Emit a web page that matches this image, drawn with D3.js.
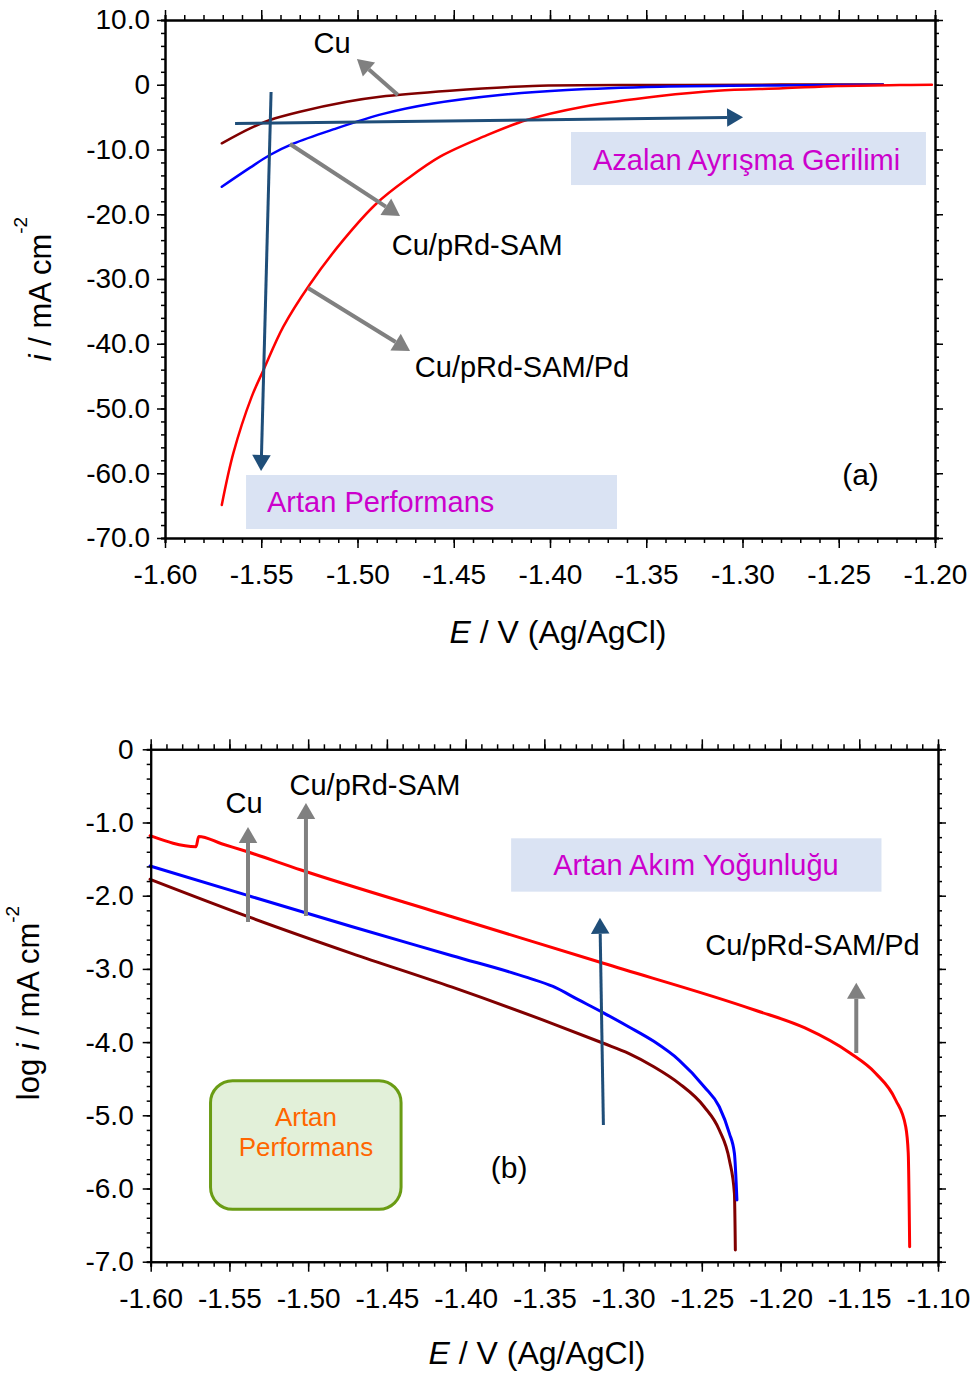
<!DOCTYPE html>
<html>
<head>
<meta charset="utf-8">
<script src="https://cdn.jsdelivr.net/npm/d3@7"></script>
<style>
body { margin: 0; background: #fff; }
text { font-family: "Liberation Sans", Arial, sans-serif; }
</style>
</head>
<body>
<svg id="chart" width="972" height="1373"></svg>
<script>
// ---- panel (a): linear current vs potential ----
var aCuE  = [-1.5705, -1.5558, -1.5455, -1.5299, -1.5056, -1.4883, -1.452, -1.409, -1.343, -1.28, -1.227];
var aCuI  = [-9.04, -6.73, -5.44, -4.16, -2.62, -1.85, -0.92, -0.19, -0.04, 0.02, 0.05];
var aSamE = [-1.5705, -1.5558, -1.5455, -1.5334, -1.5126, -1.4867, -1.4608, -1.426, -1.3912, -1.3428, -1.27, -1.227];
var aSamI = [-15.75, -12.8, -10.85, -9.1, -6.9, -4.5, -2.9, -1.58, -0.81, -0.30, -0.08, 0.0];
var aPdE  = [-1.5705, -1.5645, -1.555, -1.5489, -1.5386, -1.5247, -1.5074, -1.49, -1.4744, -1.4571, -1.4346, -1.4121, -1.3827, -1.3429, -1.3132, -1.279, -1.2509, -1.2182, -1.2016];
var aPdI  = [-64.9, -56.9, -48.2, -44.1, -37.4, -30.8, -24.0, -18.3, -14.6, -11.1, -8.02, -5.44, -3.39, -1.74, -0.92, -0.55, -0.19, -0.04, 0.0];

// ---- panel (b): Tafel plot, log i vs potential ----
var bCuE  = [-1.6004, -1.5364, -1.4725, -1.4085, -1.3445, -1.3125, -1.2965, -1.2805, -1.2645, -1.2485, -1.2389, -1.2325, -1.2293, -1.2287];
var bCuL  = [-1.776, -2.30, -2.787, -3.25, -3.75, -4.016, -4.153, -4.336, -4.563, -4.883, -5.201, -5.611, -6.066, -6.840];
var bSamE = [-1.6004, -1.5364, -1.4725, -1.4085, -1.3605, -1.3445, -1.3285, -1.3125, -1.2965, -1.2805, -1.2645, -1.2485, -1.2389, -1.2325, -1.2293, -1.2277];
var bSamL = [-1.594, -2.01, -2.42, -2.82, -3.12, -3.24, -3.42, -3.60, -3.79, -3.99, -4.245, -4.609, -4.883, -5.246, -5.519, -6.157];
var bPdE  = [-1.6004, -1.5712, -1.5695, -1.555, -1.54, -1.5045, -1.4087, -1.3125, -1.2165, -1.1845, -1.1559, -1.1398, -1.1269, -1.1205, -1.1189, -1.1180];
var bPdL  = [-1.18, -1.33, -1.19, -1.29, -1.39, -1.649, -2.287, -2.923, -3.561, -3.807, -4.149, -4.422, -4.791, -5.156, -5.515, -6.795];

// tick values
var aXTicks = d3.range(-1.60, -1.195, 0.05);
var aYTicks = d3.range(-70, 10.1, 10);
var bXTicks = d3.range(-1.60, -1.095, 0.05);
var bYTicks = d3.range(-7, 0.05, 1);

var colCu = "#800000", colSam = "#0000ff", colPd = "#ff0000";
var grey = "#808080", navy = "#1f4e79", magenta = "#cc00cc";

var svg = d3.select("#chart");

function yFmt(d) { return Math.abs(d) < 1e-9 ? "0" : d.toFixed(1); }
function xFmt(d) { return d.toFixed(2); }

function frame(g, x, y, xMaj, yMaj, xMinStep, yMinStep, xPad, yPad) {
  var x0 = x.domain()[0], x1 = x.domain()[1];
  var y0 = y.domain()[0], y1 = y.domain()[1];
  var xMin = d3.range(Math.round((x1 - x0) / xMinStep) + 1).map(function(k) { return x0 + k * xMinStep; });
  var yMin = d3.range(Math.round((y1 - y0) / yMinStep) + 1).map(function(k) { return y0 + k * yMinStep; });
  var W = x.range()[1], H = y.range()[0], L = x.range()[0], T = y.range()[1];

  // minor ticks
  g.append("g").attr("transform", "translate(0," + H + ")")
    .call(d3.axisBottom(x).tickValues(xMin).tickSize(5).tickFormat(""));
  g.append("g").attr("transform", "translate(0," + T + ")")
    .call(d3.axisTop(x).tickValues(xMin).tickSize(5).tickFormat(""));
  g.append("g").attr("transform", "translate(" + L + ",0)")
    .call(d3.axisLeft(y).tickValues(yMin).tickSize(4).tickFormat(""));
  g.append("g").attr("transform", "translate(" + W + ",0)")
    .call(d3.axisRight(y).tickValues(yMin).tickSize(4).tickFormat(""));

  // major ticks + labels
  g.append("g").attr("class", "lab").attr("transform", "translate(0," + H + ")")
    .call(d3.axisBottom(x).tickValues(xMaj).tickSize(10).tickSizeOuter(0).tickPadding(xPad).tickFormat(xFmt));
  g.append("g").attr("transform", "translate(0," + T + ")")
    .call(d3.axisTop(x).tickValues(xMaj).tickSize(10).tickSizeOuter(0).tickFormat(""));
  g.append("g").attr("class", "lab").attr("transform", "translate(" + L + ",0)")
    .call(d3.axisLeft(y).tickValues(yMaj).tickSize(8).tickSizeOuter(0).tickPadding(yPad).tickFormat(yFmt));
  g.append("g").attr("transform", "translate(" + W + ",0)")
    .call(d3.axisRight(y).tickValues(yMaj).tickSize(8).tickSizeOuter(0).tickFormat(""));

  g.selectAll(".domain").attr("stroke", "#000").attr("stroke-width", 2);
  g.selectAll(".tick line").attr("stroke", "#000").attr("stroke-width", 1.5);
  g.selectAll(".lab text").attr("font-size", 28).attr("fill", "#000")
    .style("font-family", "'Liberation Sans', Arial, sans-serif");
}

function curve(g, x, y, es, vs, col, w, cv) {
  var pts = es.map(function(e, k) { return [e, vs[k]]; });
  g.append("path").datum(pts)
    .attr("fill", "none").attr("stroke", col).attr("stroke-width", w)
    .attr("stroke-linejoin", "round").attr("stroke-linecap", "round")
    .attr("d", d3.line().x(function(d) { return x(d[0]); }).y(function(d) { return y(d[1]); })
      .curve(cv));
}

// arrow in data units
function arrow(g, x, y, e1, v1, e2, v2, col, w, head) {
  var ax = x(e1), ay = y(v1), bx = x(e2), by = y(v2);
  var dx = bx - ax, dy = by - ay, len = Math.sqrt(dx * dx + dy * dy);
  var ux = dx / len, uy = dy / len;
  var cx = bx - ux * head, cy = by - uy * head;
  g.append("line").attr("x1", ax).attr("y1", ay).attr("x2", cx).attr("y2", cy)
    .attr("stroke", col).attr("stroke-width", w);
  var hw = head * 0.58;
  g.append("polygon")
    .attr("points", [[bx, by], [cx - uy * hw, cy + ux * hw], [cx + uy * hw, cy - ux * hw]].join(" "))
    .attr("fill", col);
}

function label(g, x, y, e, v, txt, opts) {
  opts = opts || {};
  return g.append("text").attr("x", x(e)).attr("y", y(v))
    .attr("font-size", opts.size || 29).attr("fill", opts.fill || "#000")
    .attr("text-anchor", opts.anchor || "start").text(txt);
}

function box(g, x, y, e1, v1, e2, v2, fill) {
  g.append("rect").attr("x", x(e1)).attr("y", y(v1))
    .attr("width", x(e2) - x(e1)).attr("height", y(v2) - y(v1)).attr("fill", fill);
}

function xTitle(g, cx, by) {
  var t = g.append("text").attr("x", cx).attr("y", by).attr("text-anchor", "middle").attr("font-size", 32);
  t.append("tspan").attr("font-style", "italic").text("E");
  t.append("tspan").text(" / V (Ag/AgCl)");
}

function yTitle(g, bx, cy, pre, shift) {
  var t = g.append("text").attr("transform", "translate(" + bx + "," + cy + ") rotate(-90)")
    .attr("text-anchor", "middle").attr("font-size", 31);
  if (pre) t.append("tspan").text(pre);
  t.append("tspan").attr("font-style", "italic").text("i");
  t.append("tspan").text(" / mA cm");
  t.append("tspan").attr("font-size", 19).attr("dy", -shift).text("-2");
}

// ================= panel (a) =================
var xa = d3.scaleLinear().domain([-1.60, -1.20]).range([165, 935]);
var ya = d3.scaleLinear().domain([-70, 10]).range([538, 20]);
var ga = svg.append("g");

box(ga, xa, ya, -1.3891, -7.30, -1.2047, -15.49, "#dae3f3");
box(ga, xa, ya, -1.5579, -60.27, -1.3652, -68.61, "#dae3f3");

var smooth = d3.curveCatmullRom.alpha(0.5);
curve(ga, xa, ya, aCuE, aCuI, colCu, 2.5, smooth);
curve(ga, xa, ya, aSamE, aSamI, colSam, 2.5, smooth);
curve(ga, xa, ya, aPdE, aPdI, colPd, 2.5, smooth);

arrow(ga, xa, ya, -1.5449, -1.12, -1.5501, -59.65, navy, 3, 16);
arrow(ga, xa, ya, -1.5636, -5.98, -1.2997, -5.03, navy, 3, 16);
arrow(ga, xa, ya, -1.4790, -1.58, -1.5003, 3.97, grey, 4, 16);
arrow(ga, xa, ya, -1.5351, -9.15, -1.4779, -20.27, grey, 4, 17);
arrow(ga, xa, ya, -1.5257, -31.39, -1.4727, -41.12, grey, 4, 17);

label(ga, xa, ya, -1.5132, 4.9, "Cu", { anchor: "middle" });
label(ga, xa, ya, -1.4822, -26.29, "Cu/pRd-SAM");
label(ga, xa, ya, -1.4702, -45.14, "Cu/pRd-SAM/Pd");
label(ga, xa, ya, -1.3777, -13.17, "Azalan Ayrışma Gerilimi", { fill: magenta });
label(ga, xa, ya, -1.5470, -66.0, "Artan Performans", { fill: magenta });
label(ga, xa, ya, -1.2387, -61.8, "(a)", { anchor: "middle", size: 30 });

frame(ga, xa, ya, aXTicks, aYTicks, 0.01, 2, 16, 7);
xTitle(ga, 558, 643);
yTitle(ga, 51, 289, null, 24);

// ================= panel (b) =================
var xb = d3.scaleLinear().domain([-1.60, -1.10]).range([150.7, 938]);
var yb = d3.scaleLinear().domain([-7, 0]).range([1261.7, 749.3]);
var gb = svg.append("g");

box(gb, xb, yb, -1.3711, -1.216, -1.1359, -1.945, "#dae3f3");
gb.append("rect")
  .attr("x", xb(-1.5620)).attr("y", yb(-4.527))
  .attr("width", xb(-1.4410) - xb(-1.5620)).attr("height", yb(-6.284) - yb(-4.527))
  .attr("rx", 22).attr("ry", 22)
  .attr("fill", "#e2f0d9").attr("stroke", "#6a9c14").attr("stroke-width", 3);

curve(gb, xb, yb, bCuE, bCuL, colCu, 3, d3.curveMonotoneX);
curve(gb, xb, yb, bSamE, bSamL, colSam, 3, d3.curveMonotoneX);
curve(gb, xb, yb, bPdE, bPdL, colPd, 3, d3.curveMonotoneX);

arrow(gb, xb, yb, -1.3125, -5.133, -1.3147, -2.301, navy, 3, 16);
arrow(gb, xb, yb, -1.5382, -2.359, -1.5382, -1.061, grey, 4, 16);
arrow(gb, xb, yb, -1.5014, -2.277, -1.5014, -0.734, grey, 4, 16);
arrow(gb, xb, yb, -1.1519, -4.149, -1.1519, -3.189, grey, 4, 16);

label(gb, xb, yb, -1.5407, -0.870, "Cu", { anchor: "middle" });
label(gb, xb, yb, -1.4576, -0.624, "Cu/pRd-SAM", { anchor: "middle" });
label(gb, xb, yb, -1.1797, -2.810, "Cu/pRd-SAM/Pd", { anchor: "middle" });
label(gb, xb, yb, -1.2537, -1.717, "Artan Akım Yoğunluğu", { anchor: "middle", fill: magenta });
label(gb, xb, yb, -1.5014, -5.146, "Artan", { anchor: "middle", fill: "#ff6600", size: 26 });
label(gb, xb, yb, -1.5014, -5.556, "Performans", { anchor: "middle", fill: "#ff6600", size: 26 });
label(gb, xb, yb, -1.3724, -5.86, "(b)", { anchor: "middle", size: 30 });

frame(gb, xb, yb, bXTicks, bYTicks, 0.01, 0.2, 16, 9);
xTitle(gb, 537, 1364);
yTitle(gb, 39, 1003, "log ", 20);
</script>
</body>
</html>
